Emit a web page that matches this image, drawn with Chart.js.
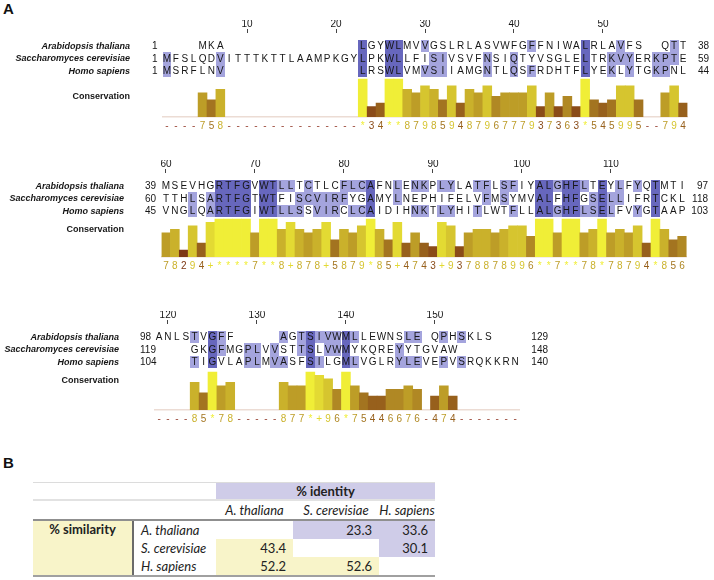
<!DOCTYPE html>
<html>
<head>
<meta charset="utf-8">
<script src="https://cdn.jsdelivr.net/npm/chart.js"></script>
<style>
  body { margin: 0; background: #fff; }
  #page { position: relative; width: 714px; height: 580px; overflow: hidden; font-family: "Liberation Sans", Arial, sans-serif; }
  .panel { position: absolute; left: 3px; font: bold 15px "Liberation Sans", Arial, sans-serif; color: #111; }
  canvas.block { position: absolute; left: 0; }
  #tbl { position: absolute; left: 33px; top: 482px; border-collapse: collapse; table-layout: fixed;
         font-family: Lato, "Open Sans", sans-serif; font-size: 13px; color: #222; }
  #tbl td { padding: 0; white-space: nowrap; overflow: visible; line-height: 15px; }
  #tbl tr.h1 td { height: 16px; border-top: 1px solid #dcdcdc; border-bottom: 2px solid #e2e2e2; }
  #tbl tr.h1 td.idt { background: #cfcce8; font-weight: bold; text-align: center; }
  #tbl tr.h2 td { height: 18px; border-bottom: 2px solid #8f8f8f; font-style: italic; text-align: center; }
  #tbl tr.r td { height: 18px; }
  #tbl tr.last td { border-bottom: 2px solid #a0a0a0; }
  #tbl td.sim { background: #f8f4c9; font-weight: bold; text-align: center; vertical-align: top; padding-top: 1px;
                border-right: 2px solid #6b6b6b; border-bottom: 2px solid #a0a0a0; }
  #tbl td.name { font-style: italic; padding-left: 7px; }
  #tbl td.v { text-align: right; padding-right: 7px; }
  #tbl td.idv { background: #cfcce8; }
  #tbl td.smv { background: #f8f4c9; }
</style>
</head>
<body>
<div id="page">
  <div class="panel" style="top:0px">A</div>
  <canvas class="block" id="blk0"></canvas>
  <canvas class="block" id="blk1"></canvas>
  <canvas class="block" id="blk2"></canvas>
  <div class="panel" style="top:454px">B</div>
  <table id="tbl"></table>
</div>
<script>
// alignment data, one string per wrapped block ('-' = gap)
const species = ['Arabidopsis thaliana', 'Saccharomyces cerevisiae', 'Homo sapiens'];
const blockFirstColumn = [1, 60, 119];

const seqArabidopsis = [
  '----MKA---------------LGYWLMVVGSLRLASVWFGFFNIWALRLAVFS--QTT',
  'MSEVHGRTFGVWTLLTCTLCFLCAFNLENKPLYLATFLSFIYALGHFLTEYLFYQTMTI',
  'ANLSTVGFF-----AGTSIVWMLLEWNSLE-QPHSKLS---'
];
const seqYeast = [
  'MFSLQDVITTTKTTLAAMPKGYLPKWLLFISIVSVFNSIQTYVSGLELTRKVYERKPTE',
  'TTHLSARTFGTWTFISCVIRFYGAMYLNEPHIFELVFMSYMVALFHFGSELLIFRTCKL',
  '----GKGFMGPLVVSTTSLVWMYKQREYYTGVAW-------'
];
const seqHuman = [
  'MSRFLNV---------------LRSWLVMVSIIAMGNTLQSFRDHTFLYEKLYTGKPNL',
  'VNGLQARTFGIWTLLSSVIRCLCAIDIHNKTLYHITLWTFLLALGHFLSELFVYGTAAP',
  '----TIGVLAPLMVASFSILGMLVGLRYLEVEPVSRQKKRN'
];
const startNumbers = [[1, 1, 1], [39, 60, 45], [98, 119, 104]];
const endNumbers = [[38, 59, 44], [97, 118, 103], [129, 148, 140]];

// conservation score per column: '*' = 11, '+' = 10, '-' = none
const conservation = [
  '----758---------------*34**87985948796777937363*545995--794',
  '78294+****7**8+878+5879*85+4743+9378878996**7**78*78794*856',
  '----85*78-----877*+96*75446676-474-------'
];

// table B
const tableNames = ['A. thaliana', 'S. cerevisiae', 'H. sapiens'];
const identityPct = [23.3, 33.6, 30.1];   // upper triangle, row by row
const similarityPct = [43.4, 52.2, 52.6]; // lower triangle, row by row

// layout of each wrapped block
const blockLayout = [
  { top: 20,  height: 115, left: 162.5, right: 687.5, labelX: 130, startX: 152, endX: 709, consDy: 64 },
  { top: 160, height: 115, left: 161.5, right: 686.6, labelX: 124, startX: 145, endX: 708, consDy: 57 },
  { top: 311, height: 117, left: 154.6, right: 519.5, labelX: 119, startX: 140, endX: 548, consDy: 57 }
];
const AXES_H = 31;   // ruler + conservation tick rows
const BAR_H = 38;    // pixel height of a full ('*') bar

const DARK = '#6767bd';
const LIGHT = '#a4a4dd';
const FONT = '"Liberation Sans", Arial, sans-serif';

function scoreOf(ch) {
  if (ch === '*') return 11;
  if (ch === '+') return 10;
  if (ch === '-') return null;
  return Number(ch);
}

function consColor(v) {
  const t = Math.max(0, Math.min(1, (v - 2) / 9));
  const r = Math.round(125 + 115 * t), g = Math.round(55 + 183 * t), b = Math.round(20 + 35 * t);
  return `rgb(${r}, ${g}, ${b})`;
}

function charColor(ch) {
  const v = scoreOf(ch);
  return v === null ? '#9c4a3c' : consColor(v);
}

// percentage identity shading, like Jalview
function columnConsensus(col) {
  const counts = {};
  col.forEach(c => { if (c !== '-') counts[c] = (counts[c] || 0) + 1; });
  let best = null, n = 0;
  for (const k in counts) if (counts[k] > n) { best = k; n = counts[k]; }
  return { best, n };
}

const alignmentPlugin = {
  id: 'alignment',
  afterDraw(chart, args, opts) {
    const { ctx, chartArea: area, scales: { x } } = chart;
    const b = opts.block, lay = blockLayout[b];
    const rows = [seqArabidopsis[b], seqYeast[b], seqHuman[b]];
    const n = rows[0].length;
    const w = (x.right - x.left) / n;
    const rowH = 12.5;
    const rowY = k => area.top + 13 + k * rowH;

    ctx.save();
    for (let i = 0; i < n; i++) {
      const { best, n: cnt } = columnConsensus(rows.map(r => r[i]));
      if (cnt < 2) continue;
      const cx = x.getPixelForValue(i);
      const x0 = Math.round(cx - w / 2), x1 = Math.round(cx + w / 2);
      rows.forEach((r, k) => {
        if (r[i] !== best) return;
        ctx.fillStyle = cnt === 3 ? DARK : LIGHT;
        const y0 = Math.round(rowY(k) - rowH / 2), y1 = Math.round(rowY(k) + rowH / 2);
        ctx.fillRect(x0, y0, x1 - x0, y1 - y0);
      });
    }

    ctx.fillStyle = '#161616';
    ctx.font = '10px ' + FONT;
    ctx.textAlign = 'center';
    ctx.textBaseline = 'middle';
    rows.forEach((r, k) => {
      for (let i = 0; i < n; i++) {
        if (r[i] === '-') continue;
        ctx.fillText(r[i], x.getPixelForValue(i), rowY(k) + 0.5);
      }
    });

    // sequence start / end numbers
    rows.forEach((r, k) => {
      ctx.textAlign = 'left';
      ctx.fillText(String(startNumbers[b][k]), lay.startX, rowY(k) + 0.5);
      ctx.textAlign = 'right';
      ctx.fillText(String(endNumbers[b][k]), lay.endX, rowY(k) + 0.5);
    });

    // row labels
    ctx.textAlign = 'right';
    ctx.font = 'italic bold 9px ' + FONT;
    species.forEach((s, k) => ctx.fillText(s, lay.labelX, rowY(k) + 0.5));
    ctx.font = 'bold 9px ' + FONT;
    ctx.fillText('Conservation', lay.labelX, area.top + lay.consDy);
    ctx.restore();
  }
};

function makeBlock(b) {
  const lay = blockLayout[b];
  const cons = conservation[b];
  const n = cons.length;
  const labels = [];
  for (let i = 0; i < n; i++) labels.push(blockFirstColumn[b] + i);
  const values = cons.split('').map(scoreOf);
  const colors = values.map(v => v === null ? 'transparent' : consColor(v));

  const canvas = document.getElementById('blk' + b);
  canvas.width = 714;
  canvas.height = lay.height;
  canvas.style.top = lay.top + 'px';
  const yMax = 11 * (lay.height - AXES_H) / BAR_H;

  new Chart(canvas.getContext('2d'), {
    type: 'bar',
    data: {
      labels: labels,
      datasets: [{
        data: values,
        backgroundColor: colors,
        borderWidth: 0,
        barPercentage: 1,
        categoryPercentage: 1
      }]
    },
    options: {
      responsive: false,
      animation: false,
      events: [],
      layout: { padding: { left: lay.left, right: 714 - lay.right, top: 0, bottom: 0 } },
      plugins: {
        legend: { display: false },
        tooltip: { enabled: false },
        alignment: { block: b }
      },
      scales: {
        x: {
          type: 'category',
          position: 'bottom',
          offset: true,
          grid: { display: false, drawTicks: false },
          border: { display: true, color: '#ecdcd4', width: 1.5 },
          ticks: {
            autoSkip: false,
            maxRotation: 0,
            padding: 3,
            font: { size: 10, family: FONT },
            color: ctx => charColor(cons[ctx.index]),
            callback: (v, i) => cons[i]
          }
        },
        ruler: {
          type: 'category',
          position: 'top',
          offset: true,
          grid: {
            offset: false,
            drawOnChartArea: false,
            drawTicks: true,
            tickLength: 4,
            color: ctx => (labels[ctx.index] % 10 === 0 ? '#444' : 'rgba(0,0,0,0)')
          },
          border: { display: false },
          ticks: {
            autoSkip: false,
            maxRotation: 0,
            padding: -1.5,
            color: '#161616',
            font: { size: 10, family: FONT },
            callback: (v, i) => (labels[i] % 10 === 0 ? String(labels[i]) : '')
          }
        },
        y: { display: false, min: 0, max: yMax }
      }
    },
    plugins: [alignmentPlugin]
  });
}

[0, 1, 2].forEach(makeBlock);

// table B
(function buildTable() {
  let html = '<colgroup><col style="width:100px"><col style="width:83px"><col style="width:77px">' +
             '<col style="width:86px"><col style="width:56px"></colgroup>';
  html += '<tr class="h1"><td></td><td></td><td colspan="3" class="idt">% identity</td></tr>';
  html += '<tr class="h2"><td></td><td></td>' + tableNames.map(s => '<td>' + s + '</td>').join('') + '</tr>';
  let up = 0, low = 0;
  tableNames.forEach((name, r) => {
    html += '<tr class="r' + (r === tableNames.length - 1 ? ' last' : '') + '">';
    if (r === 0) html += '<td class="sim" rowspan="3">% similarity</td>';
    html += '<td class="name">' + name + '</td>';
    tableNames.forEach((_, c) => {
      if (c > r) html += '<td class="v idv">' + identityPct[up++].toFixed(1) + '</td>';
      else if (c < r) html += '<td class="v smv">' + similarityPct[low++].toFixed(1) + '</td>';
      else html += '<td class="v"></td>';
    });
    html += '</tr>';
  });
  document.getElementById('tbl').innerHTML = html;
})();
</script>
</body>
</html>
